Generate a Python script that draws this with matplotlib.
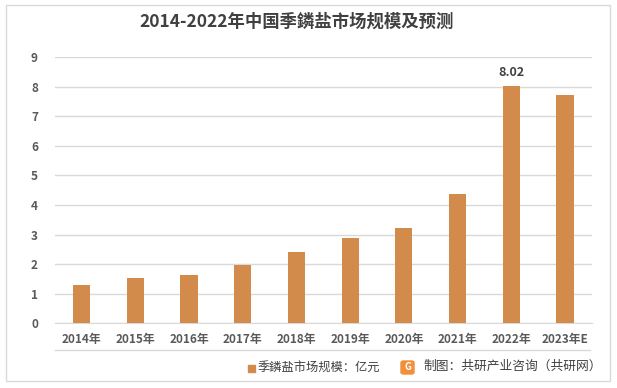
import matplotlib
matplotlib.use("Agg")
from matplotlib import pyplot as plt
from matplotlib.patches import Rectangle, FancyBboxPatch

plt.rcParams['font.family'] = ['Noto Sans CJK SC', 'DejaVu Sans']

# данные
years = ['2014年', '2015年', '2016年', '2017年', '2018年',
         '2019年', '2020年', '2021年', '2022年', '2023年E']
market_size = [1.29, 1.53, 1.63, 1.97, 2.41, 2.88, 3.22, 4.37, 8.02, 7.71]
labeled = {'2022年': '8.02'}

title = '2014-2022年中国季鏻盐市场规模及预测'
legend_text = '季鏻盐市场规模：亿元'
source_text = '制图：共研产业咨询（共研网）'

bar_color = '#D38B4C'
text_color = '#595959'
grid_color = '#D9D9D9'

fig = plt.figure(figsize=(6.17, 3.88), dpi=100)
fig.patch.set_facecolor('white')

# рамка вокруг рисунка
fig.patches.append(Rectangle((6 / 617, 1 - 381 / 388), 604 / 617, 376 / 388,
                             transform=fig.transFigure, fill=False,
                             edgecolor=grid_color, linewidth=1.0))

ax = fig.add_axes([54.65 / 617, 64.7 / 388, 537.3 / 617, 266.4 / 388])
ax.patch.set_alpha(0)

x = range(len(years))
ax.bar(x, market_size, width=0.32, color=bar_color, zorder=3)

for i, (yr, v) in enumerate(zip(years, market_size)):
    if yr in labeled:
        ax.text(i, v + 0.25, labeled[yr], ha='center', va='bottom',
                fontsize=9, fontweight='bold', color='#404040')

ax.set_xlim(-0.5, len(years) - 0.5)
ax.set_ylim(0, 9)
ax.set_yticks(range(0, 10))
ax.set_xticks(list(x))
ax.set_xticklabels(years)
ax.yaxis.grid(True, color=grid_color, linewidth=1.0, zorder=0)
ax.set_axisbelow(True)
for s in ['top', 'right', 'left']:
    ax.spines[s].set_visible(False)
ax.spines['bottom'].set_color(grid_color)
ax.tick_params(axis='both', length=0, labelsize=8.5, colors=text_color)
ax.tick_params(axis='x', pad=7)
ax.tick_params(axis='y', pad=12)
for lbl in ax.get_xticklabels() + ax.get_yticklabels():
    lbl.set_fontweight('bold')

fig.text(297 / 617, 1 - 22 / 388, title, ha='center', va='center',
         fontsize=12.5, fontweight='bold', color='#404040')

# линия под подписями оси
fig.add_artist(plt.Line2D([55 / 617, 590 / 617], [1 - 350 / 388] * 2,
                          transform=fig.transFigure, color=grid_color, linewidth=1.0))

# легенда
fig.patches.append(Rectangle((248 / 617, 1 - 372 / 388), 7 / 617, 7 / 388,
                             transform=fig.transFigure, color=bar_color))
fig.text(258 / 617, 1 - 368 / 388, legend_text, ha='left', va='center',
         fontsize=8.8, color='#404040')

# логотип и источник
fig.patches.append(FancyBboxPatch((401 / 617, 1 - 374 / 388), 13 / 617, 13 / 388,
                                  boxstyle='round,pad=0,rounding_size=0.004',
                                  transform=fig.transFigure, color='#F0903A'))
fig.text(407.5 / 617, 1 - 367.5 / 388, 'G', ha='center', va='center',
         fontsize=7, fontweight='bold', color='white')
fig.text(423 / 617, 1 - 366 / 388, source_text, ha='left', va='center',
         fontsize=9.2, color='#404040')

fig.savefig('out.png', dpi=100)
